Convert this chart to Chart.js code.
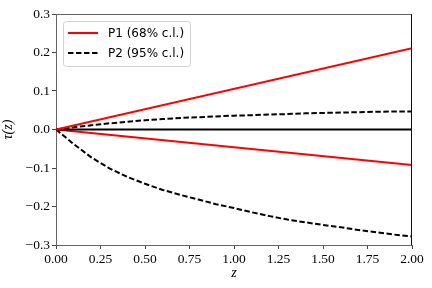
<!DOCTYPE html>
<html>
<head>
<meta charset="utf-8">
<script src="https://cdn.jsdelivr.net/npm/chart.js@4/dist/chart.umd.min.js"></script>
<style>
  body { margin: 0; background: #fff; }
  #tau { display: block; }
</style>
</head>
<body>
<canvas id="tau" width="432" height="288"></canvas>
<script>
/* data */
var zEnds = [0, 2];
var p1Upper = [0, 0.211];
var p1Lower = [0, -0.092];
var zeroLine = [0, 0];

var zGrid = [0, 0.1, 0.2, 0.3, 0.4, 0.5, 0.6, 0.7, 0.8, 0.9, 1.0,
             1.1, 1.2, 1.3, 1.4, 1.5, 1.6, 1.7, 1.8, 1.9, 2.0];
var p2Upper = [0, 0.006, 0.011, 0.016, 0.020, 0.024, 0.027, 0.030, 0.032, 0.034, 0.036,
               0.037, 0.039, 0.040, 0.042, 0.043, 0.044, 0.045, 0.046, 0.047, 0.047];
var p2Lower = [0, -0.038, -0.073, -0.101, -0.123, -0.141, -0.157, -0.170, -0.182, -0.194, -0.204,
               -0.215, -0.225, -0.234, -0.241, -0.248, -0.254, -0.261, -0.267, -0.273, -0.278];

var xTicks = [0, 0.25, 0.5, 0.75, 1, 1.25, 1.5, 1.75, 2];
var yTicks = [-0.3, -0.2, -0.1, 0, 0.1, 0.2, 0.3];

var legendItems = [
  { label: 'P1 (68% c.l.)', color: '#ff0000', dash: [] },
  { label: 'P2 (95% c.l.)', color: '#000000', dash: [5.5, 2.5] }
];

function pts(xs, ys) {
  return xs.map(function (x, i) { return { x: x, y: ys[i] }; });
}

function series(xs, ys, color, dash) {
  return {
    data: pts(xs, ys),
    borderColor: color,
    borderWidth: 2,
    borderDash: dash,
    pointRadius: 0,
    tension: 0,
    fill: false
  };
}

var tickFont = { family: 'Liberation Serif', size: 13.5 };
var minus = function (v) { return v < 0 ? '\u2212' + Math.abs(v) : '' + v; };

var framePlugin = {
  id: 'frame',
  afterDraw: function (chart) {
    var c = chart.ctx, a = chart.chartArea;
    c.save();
    c.lineWidth = 1;
    c.strokeStyle = '#666';
    c.beginPath();
    c.moveTo(a.left, a.top + 0.5);
    c.lineTo(a.right, a.top + 0.5);
    c.stroke();
    c.strokeStyle = '#111';
    c.beginPath();
    c.moveTo(a.right - 0.5, a.top);
    c.lineTo(a.right - 0.5, a.bottom);
    c.stroke();

    // legend box, upper left
    var bx = 63.5, by = 21.5, bw = 127, bh = 45, r = 3;
    c.fillStyle = 'rgba(255,255,255,0.85)';
    c.strokeStyle = '#d0d0d0';
    c.beginPath();
    c.moveTo(bx + r, by);
    c.arcTo(bx + bw, by, bx + bw, by + bh, r);
    c.arcTo(bx + bw, by + bh, bx, by + bh, r);
    c.arcTo(bx, by + bh, bx, by, r);
    c.arcTo(bx, by, bx + bw, by, r);
    c.closePath();
    c.fill();
    c.stroke();
    c.font = '12px "DejaVu Sans"';
    c.textBaseline = 'middle';
    legendItems.forEach(function (it, i) {
      var y = 33 + i * 20;
      c.strokeStyle = it.color;
      c.lineWidth = 2;
      c.setLineDash(it.dash);
      c.beginPath();
      c.moveTo(68, y);
      c.lineTo(98, y);
      c.stroke();
      c.setLineDash([]);
      c.fillStyle = '#000';
      c.fillText(it.label, 108, y + 1);
    });
    c.restore();
  }
};

new Chart(document.getElementById('tau'), {
  type: 'line',
  data: {
    datasets: [
      series(zEnds, p1Upper, '#ff0000', []),
      series(zGrid, p2Upper, '#000000', [5.5, 2.5]),
      series(zEnds, zeroLine, '#000000', []),
      series(zEnds, p1Lower, '#ff0000', []),
      series(zGrid, p2Lower, '#000000', [5.5, 2.5])
    ]
  },
  options: {
    responsive: false,
    animation: false,
    layout: { padding: { top: 14, right: 20, left: 0, bottom: 0 } },
    plugins: { legend: { display: false }, tooltip: { enabled: false } },
    scales: {
      x: {
        type: 'linear',
        min: 0,
        max: 2,
        afterFit: function (s) { s.height = 43; },
        afterBuildTicks: function (s) { s.ticks = xTicks.map(function (v) { return { value: v }; }); },
        ticks: {
          font: tickFont,
          color: '#000',
          padding: 2,
          maxRotation: 0,
          callback: function (v) { return v.toFixed(2); }
        },
        grid: { drawOnChartArea: false, drawTicks: true, tickLength: 4, color: '#444' },
        border: { display: true, color: '#666', width: 1 },
        title: {
          display: true,
          text: 'z',
          font: { family: 'Liberation Serif', size: 14, style: 'italic' },
          color: '#000',
          padding: { top: 0, bottom: 6 }
        }
      },
      y: {
        min: -0.3,
        max: 0.3,
        afterFit: function (s) { s.width = 56; },
        afterBuildTicks: function (s) { s.ticks = yTicks.map(function (v) { return { value: v }; }); },
        ticks: {
          font: tickFont,
          color: '#000',
          padding: 2,
          callback: function (v) { return minus(Number(v.toFixed(1))) + (v === 0 ? '.0' : ''); }
        },
        grid: { drawOnChartArea: false, drawTicks: true, tickLength: 4, color: '#444' },
        border: { display: true, color: '#666', width: 1 },
        title: {
          display: true,
          text: '\u03c4(z)',
          font: { family: 'Liberation Serif', size: 14, style: 'italic' },
          color: '#000',
          padding: { top: 0, bottom: 0 }
        }
      }
    }
  },
  plugins: [framePlugin]
});
</script>
</body>
</html>
